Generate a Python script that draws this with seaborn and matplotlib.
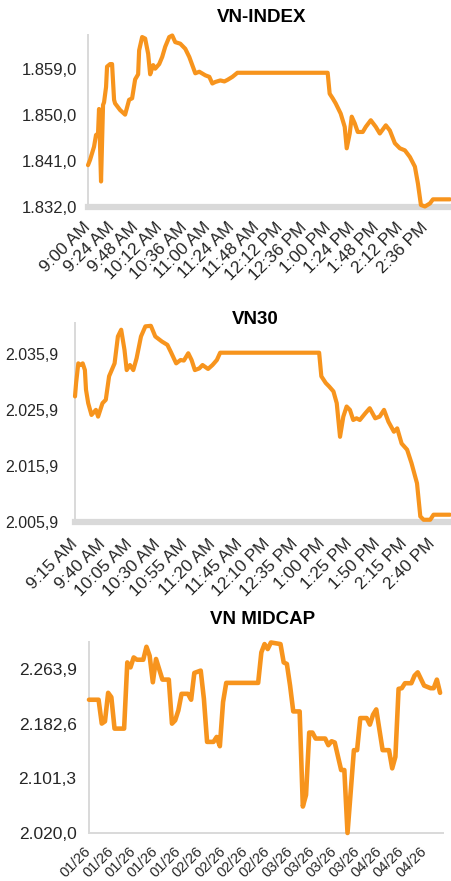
import pandas as pd
import matplotlib
matplotlib.use("Agg")
import matplotlib.pyplot as plt
import matplotlib.dates as mdates
from matplotlib.ticker import FixedLocator, FuncFormatter
import seaborn as sns

sns.set_style("white")
plt.rcParams['font.family'] = ['Liberation Sans', 'DejaVu Sans']

LINE = '#F7941D'
AXIS = '#D9D9D9'
TEXT = '#262626'
DAY = "2026-04-22 "

# --- VN-INDEX (intraday) ---
vni_times = ["09:00", "09:02", "09:06", "09:08", "09:10", "09:11", "09:13", "09:15", "09:16", "09:18",
             "09:19", "09:22", "09:24", "09:26", "09:27", "09:32", "09:37", "09:41", "09:44", "09:47",
             "09:50", "09:51", "09:54", "09:57", "10:00", "10:02", "10:05", "10:07", "10:11", "10:14",
             "10:17", "10:21", "10:24", "10:27", "10:32", "10:37", "10:41", "10:44", "10:47", "10:51",
             "10:57", "11:01", "11:04", "11:07", "11:12", "11:16", "11:19", "11:24", "11:29", "12:59",
             "13:01", "13:04", "13:07", "13:12", "13:16", "13:18", "13:21", "13:23", "13:26", "13:29",
             "13:34", "13:37", "13:42", "13:47", "13:51", "13:57", "14:01", "14:06", "14:11", "14:16",
             "14:21", "14:26", "14:29", "14:32", "14:36", "14:41", "14:44", "15:01"]
vni_values = [1840.2, 1841.2, 1843.8, 1846.1, 1846.4, 1851.2, 1837.0, 1852.0, 1852.5, 1855.5,
              1859.5, 1860.0, 1860.0, 1853.0, 1852.3, 1851.0, 1850.1, 1853.0, 1853.3, 1857.0,
              1858.0, 1862.7, 1865.3, 1865.0, 1862.0, 1858.0, 1859.8, 1859.1, 1860.0, 1861.4,
              1863.4, 1865.3, 1865.6, 1864.3, 1864.0, 1863.0, 1861.4, 1859.8, 1858.2, 1858.5,
              1857.8, 1857.5, 1856.2, 1856.5, 1856.8, 1856.6, 1856.9, 1857.5, 1858.3, 1858.3,
              1854.2, 1853.3, 1852.3, 1850.3, 1847.7, 1843.5, 1846.4, 1849.7, 1848.4, 1846.7,
              1846.7, 1847.7, 1849.0, 1847.7, 1846.4, 1848.0, 1847.0, 1844.5, 1843.5, 1843.1,
              1841.8, 1839.9, 1836.6, 1832.4, 1832.1, 1832.7, 1833.5, 1833.5]
vni_yticks = [1832.0, 1841.0, 1850.0, 1859.0]
vni_xticks = ["9:00 AM", "9:24 AM", "9:48 AM", "10:12 AM", "10:36 AM", "11:00 AM", "11:24 AM",
              "11:48 AM", "12:12 PM", "12:36 PM", "1:00 PM", "1:24 PM", "1:48 PM", "2:12 PM", "2:36 PM"]

# --- VN30 (intraday) ---
vn30_times = ["09:15", "09:16", "09:18", "09:20", "09:22", "09:24", "09:25", "09:27", "09:30", "09:34",
              "09:36", "09:40", "09:43", "09:46", "09:51", "09:54", "09:57", "10:00", "10:02", "10:05",
              "10:08", "10:11", "10:15", "10:19", "10:24", "10:28", "10:34", "10:39", "10:42", "10:47",
              "10:51", "10:54", "10:58", "11:01", "11:04", "11:08", "11:11", "11:16", "11:20", "11:24",
              "11:27", "12:57", "12:59", "13:03", "13:06", "13:10", "13:13", "13:16", "13:19", "13:22",
              "13:25", "13:28", "13:31", "13:34", "13:39", "13:43", "13:48", "13:52", "13:56", "14:00",
              "14:05", "14:08", "14:12", "14:17", "14:21", "14:26", "14:29", "14:32", "14:38", "14:41",
              "14:56"]
vn30_values = [2028.3, 2030.7, 2034.2, 2033.9, 2034.2, 2033.0, 2029.5, 2027.1, 2025.0, 2025.9,
               2024.7, 2027.1, 2027.7, 2031.9, 2034.2, 2039.0, 2040.2, 2036.6, 2033.0, 2033.9,
               2033.0, 2035.1, 2039.0, 2040.8, 2040.9, 2039.0, 2038.1, 2037.5, 2036.3, 2034.2,
               2034.8, 2034.7, 2036.0, 2034.8, 2033.0, 2033.3, 2033.9, 2033.2, 2033.9, 2034.8,
               2036.1, 2036.1, 2031.9, 2030.7, 2030.1, 2029.2, 2027.1, 2021.1, 2024.7, 2026.5,
               2025.9, 2024.1, 2024.4, 2024.1, 2025.3, 2026.2, 2024.4, 2024.7, 2025.9, 2023.8,
               2022.0, 2022.6, 2019.9, 2018.8, 2016.4, 2012.8, 2006.9, 2006.3, 2006.3, 2007.2,
               2007.2]
vn30_yticks = [2005.9, 2015.9, 2025.9, 2035.9]
vn30_xticks = ["9:15 AM", "9:40 AM", "10:05 AM", "10:30 AM", "10:55 AM", "11:20 AM", "11:45 AM",
               "12:10 PM", "12:35 PM", "1:00 PM", "1:25 PM", "1:50 PM", "2:15 PM", "2:40 PM"]

# --- VN MIDCAP (daily) ---
mid_dates = ["2026-01-01", "2026-01-04", "2026-01-05", "2026-01-06", "2026-01-07", "2026-01-08",
             "2026-01-09", "2026-01-12", "2026-01-13", "2026-01-14", "2026-01-15", "2026-01-16",
             "2026-01-18", "2026-01-19", "2026-01-20", "2026-01-21", "2026-01-22", "2026-01-24",
             "2026-01-26", "2026-01-27", "2026-01-28", "2026-01-29", "2026-01-30", "2026-02-01",
             "2026-02-02", "2026-02-03", "2026-02-05", "2026-02-06", "2026-02-07", "2026-02-09",
             "2026-02-10", "2026-02-11", "2026-02-12", "2026-02-13", "2026-02-23", "2026-02-24",
             "2026-02-25", "2026-02-26", "2026-02-27", "2026-03-02", "2026-03-03", "2026-03-04",
             "2026-03-05", "2026-03-06", "2026-03-08", "2026-03-09", "2026-03-10", "2026-03-11",
             "2026-03-12", "2026-03-13", "2026-03-16", "2026-03-17", "2026-03-18", "2026-03-19",
             "2026-03-21", "2026-03-22", "2026-03-23", "2026-03-25", "2026-03-26", "2026-03-27",
             "2026-03-29", "2026-03-30", "2026-03-31", "2026-04-01", "2026-04-03", "2026-04-05",
             "2026-04-06", "2026-04-07", "2026-04-08", "2026-04-09", "2026-04-10", "2026-04-12",
             "2026-04-13", "2026-04-14", "2026-04-16", "2026-04-18", "2026-04-19", "2026-04-20",
             "2026-04-21"]
mid_values = [2218.5, 2218.5, 2183.0, 2186.3, 2228.8, 2222.3,
              2175.5, 2175.5, 2274.1, 2266.7, 2281.5, 2278.1,
              2278.1, 2297.4, 2284.0, 2244.5, 2279.2, 2248.5,
              2248.5, 2182.9, 2187.8, 2202.6, 2227.3, 2227.3,
              2218.5, 2258.4, 2261.9, 2219.9, 2155.7, 2155.7,
              2163.1, 2149.3, 2215.0, 2243.6, 2243.6, 2289.0,
              2301.4, 2294.0, 2303.8, 2301.4, 2274.1, 2271.8,
              2239.6, 2201.1, 2201.1, 2059.4, 2076.7, 2169.6,
              2169.6, 2160.7, 2160.7, 2150.8, 2156.7, 2154.8,
              2113.8, 2113.8, 2020.0, 2143.4, 2143.4, 2191.2,
              2191.2, 2181.4, 2196.2, 2204.1, 2143.4, 2143.4,
              2116.3, 2133.5, 2234.7, 2235.7, 2243.1, 2243.1,
              2254.4, 2259.3, 2239.6, 2235.7, 2235.7, 2248.5,
              2228.8]
mid_yticks = [2020.0, 2101.3, 2182.6, 2263.9]


def vn_number(v, pos=None):
    s = f"{v:,.1f}"
    return s.replace(",", "X").replace(".", ",").replace("X", ".")


def style_axes(ax, yticks, ylim, ysize, ypad, xpad, band):
    for side in ("top", "right"):
        ax.spines[side].set_visible(False)
    ax.spines["left"].set_color(AXIS)
    ax.spines["left"].set_linewidth(1.4)
    ax.spines["bottom"].set_color(AXIS)
    if band:
        ax.spines["bottom"].set_linewidth(4.5)
        ax.tick_params(axis="x", length=0, pad=xpad)
    else:
        ax.spines["bottom"].set_linewidth(1.4)
        ax.tick_params(axis="x", length=4, width=1.2, color=AXIS, direction="out", pad=xpad)
    ax.set_ylim(*ylim)
    ax.yaxis.set_major_locator(FixedLocator(yticks))
    ax.yaxis.set_major_formatter(FuncFormatter(vn_number))
    ax.tick_params(axis="y", length=0, pad=ypad, labelsize=ysize, labelcolor=TEXT)
    ax.set_xlabel("")
    ax.set_ylabel("")
    ax.grid(False)


def rotate_labels(ax, size):
    for lab in ax.get_xticklabels():
        lab.set_rotation(45)
        lab.set_ha("right")
        lab.set_va("center")
        lab.set_rotation_mode("anchor")
        lab.set_fontsize(size)
        lab.set_color(TEXT)


fig = plt.figure(figsize=(4.51, 8.81), dpi=100)
W, H = 451, 881


def add_axes(left, top, right, bottom):
    return fig.add_axes([left / W, 1 - bottom / H, (right - left) / W, (bottom - top) / H])


# Panel 1
ax1 = add_axes(88, 35, 450, 207)
vni = pd.DataFrame({"t": pd.to_datetime([DAY + t for t in vni_times]), "v": vni_values})
sns.lineplot(data=vni, x="t", y="v", ax=ax1, color=LINE, linewidth=3.0,
             estimator=None, sort=False, zorder=3, clip_on=False)
style_axes(ax1, vni_yticks, (1832.0, 1865.7), 12, 8, 13, band=True)
ax1.set_xlim(vni["t"].iloc[0], vni["t"].iloc[-1])
ax1.set_xticks(pd.to_datetime([DAY + t for t in vni_xticks]))
ax1.set_xticklabels(vni_xticks)
rotate_labels(ax1, 12.5)
fig.text(262 / W, 1 - 18 / H, "VN-INDEX", ha="center", va="center",
         fontsize=13.5, fontweight="bold", color="#000000")

# Panel 2
ax2 = add_axes(75, 323, 450, 522)
vn30 = pd.DataFrame({"t": pd.to_datetime([DAY + t for t in vn30_times]), "v": vn30_values})
sns.lineplot(data=vn30, x="t", y="v", ax=ax2, color=LINE, linewidth=3.0,
             estimator=None, sort=False, zorder=3, clip_on=False)
style_axes(ax2, vn30_yticks, (2005.9, 2041.4), 11.5, 12, 14, band=True)
ax2.set_xlim(vn30["t"].iloc[0], vn30["t"].iloc[-1])
ax2.set_xticks(pd.to_datetime([DAY + t for t in vn30_xticks]))
ax2.set_xticklabels(vn30_xticks)
rotate_labels(ax2, 12.5)
fig.text(255 / W, 1 - 320 / H, "VN30", ha="center", va="center",
         fontsize=13.5, fontweight="bold", color="#000000")

# Panel 3
ax3 = add_axes(89, 642, 443, 833)
mid = pd.DataFrame({"d": pd.to_datetime(mid_dates), "v": mid_values})
sns.lineplot(data=mid, x="d", y="v", ax=ax3, color=LINE, linewidth=3.3,
             estimator=None, sort=False, zorder=3, clip_on=False)
style_axes(ax3, mid_yticks, (2020.0, 2304.5), 12.5, 9, 8, band=False)
ax3.set_xlim(mid["d"].iloc[0], mid["d"].iloc[-1] + pd.Timedelta(hours=22))
ax3.xaxis.set_major_locator(mdates.WeekdayLocator(byweekday=mdates.TH))
ax3.xaxis.set_major_formatter(mdates.DateFormatter("%m/%y"))
rotate_labels(ax3, 10.5)
fig.text(262.5 / W, 1 - 619 / H, "VN MIDCAP", ha="center", va="center",
         fontsize=13.5, fontweight="bold", color="#000000")

for line in fig.findobj(matplotlib.lines.Line2D):
    if line.get_color() == LINE:
        line.set_solid_capstyle("round")
        line.set_solid_joinstyle("round")

fig.savefig("out.png", dpi=100)
